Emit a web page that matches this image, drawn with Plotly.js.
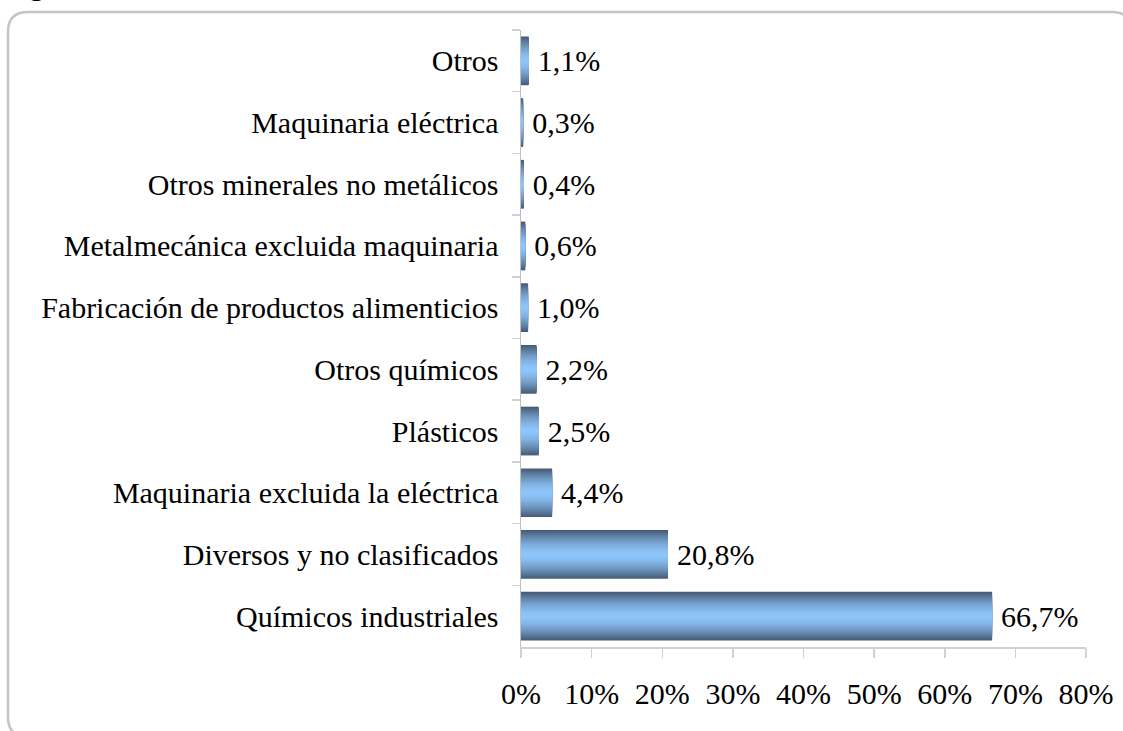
<!DOCTYPE html>
<html>
<head>
<meta charset="utf-8">
<script src="https://cdn.plot.ly/plotly-3.0.1.min.js"></script>
<style>
  html, body { margin: 0; padding: 0; background: #ffffff; }
  #chart { width: 1123px; height: 731px; }
</style>
</head>
<body>
<div id="chart"></div>
<script>
// Data (top to bottom as in the picture)
var categories = [
  "Otros",
  "Maquinaria eléctrica",
  "Otros minerales no metálicos",
  "Metalmecánica excluida maquinaria",
  "Fabricación de productos alimenticios",
  "Otros químicos",
  "Plásticos",
  "Maquinaria excluida la eléctrica",
  "Diversos y no clasificados",
  "Químicos industriales"
];
var shares = [1.1, 0.3, 0.4, 0.6, 1.0, 2.2, 2.5, 4.4, 20.8, 66.7];
var xTickValues = [0, 10, 20, 30, 40, 50, 60, 70, 80];
var xTickLabels = ["0%", "10%", "20%", "30%", "40%", "50%", "60%", "70%", "80%"];

// Layout geometry (pixels)
var W = 1123, H = 731;
var L = 521, R = 37, T = 30, B = 84;
var plotW = W - L - R, plotH = H - T - B;
function px2x(px) { return (px - L) / plotW; }
function py2y(py) { return (H - B - py) / plotH; }

var FONT = "Liberation Serif";

// Gradient bars: overlaid layers of decreasing thickness
var dark = [70, 92, 118], light = [143, 198, 252];
var N = 22, fullWidth = 0.79;
var traces = [];
for (var i = 0; i < N; i++) {
  var d = 1 - i / N;                  // 1 at edge, ->0 at centre
  var f = Math.pow(d, 1.6);
  var c = [0, 1, 2].map(function (k) { return Math.round(light[k] + (dark[k] - light[k]) * f); });
  var tr = {
    type: "bar",
    orientation: "h",
    x: shares,
    y: categories,
    width: fullWidth * d,
    marker: { color: "rgb(" + c.join(",") + ")", line: { width: 0 } },
    hoverinfo: "skip",
    showlegend: false
  };
  if (i === 0) {
    tr.texttemplate = "\u2009%{x:.1f}%";
    tr.textposition = "outside";
    tr.constraintext = "none";
    tr.cliponaxis = false;
    tr.textfont = { family: FONT, size: 30, color: "#000000" };
  }
  traces.push(tr);
}

// Rounded frame
var fx0 = 8, fy0 = 12, fx1 = 1132, fy1 = 737, rr = 20;
var framePath =
  "M " + px2x(fx0) + "," + py2y(fy0 + rr) +
  " Q " + px2x(fx0) + "," + py2y(fy0) + " " + px2x(fx0 + rr) + "," + py2y(fy0) +
  " L " + px2x(fx1 - rr) + "," + py2y(fy0) +
  " Q " + px2x(fx1) + "," + py2y(fy0) + " " + px2x(fx1) + "," + py2y(fy0 + rr) +
  " L " + px2x(fx1) + "," + py2y(fy1 - rr) +
  " Q " + px2x(fx1) + "," + py2y(fy1) + " " + px2x(fx1 - rr) + "," + py2y(fy1) +
  " L " + px2x(fx0 + rr) + "," + py2y(fy1) +
  " Q " + px2x(fx0) + "," + py2y(fy1) + " " + px2x(fx0) + "," + py2y(fy1 - rr) +
  " Z";

var layout = {
  width: W, height: H,
  margin: { l: L, r: R, t: T, b: B, pad: 0 },
  paper_bgcolor: "#ffffff",
  plot_bgcolor: "rgba(0,0,0,0)",
  barmode: "overlay",
  separators: ",.",
  showlegend: false,
  font: { family: FONT, size: 30, color: "#000000" },
  xaxis: {
    range: [0, 80],
    tickvals: xTickValues,
    ticktext: xTickLabels,
    showgrid: false,
    zeroline: false,
    showline: true,
    linecolor: "#d0d0d0",
    linewidth: 1.5,
    ticks: "outside",
    ticklen: 9,
    tickcolor: "#d0d0d0",
    tickwidth: 1.5,
    ticklabelstandoff: 10,
    tickfont: { family: FONT, size: 30, color: "#000000" },
    fixedrange: true
  },
  yaxis: {
    type: "category",
    categoryorder: "array",
    categoryarray: categories,
    autorange: "reversed",
    showgrid: false,
    zeroline: false,
    showline: true,
    linecolor: "#c0c0c0",
    linewidth: 1.5,
    ticks: "outside",
    tickson: "boundaries",
    ticklen: 8,
    tickcolor: "#d0d0d0",
    tickwidth: 1.5,
    ticklabelstandoff: 15,
    tickfont: { family: FONT, size: 30, color: "#000000" },
    fixedrange: true
  },
  shapes: [{
    type: "path",
    xref: "paper", yref: "paper",
    path: framePath,
    line: { color: "#c4c4c4", width: 2.5 },
    fillcolor: "rgba(0,0,0,0)",
    layer: "below"
  }],
  annotations: [{
    xref: "paper", yref: "paper",
    x: px2x(36), y: py2y(3),
    xanchor: "center", yanchor: "bottom",
    text: "g", showarrow: false,
    font: { family: FONT, size: 30, color: "#000000" }
  }]
};

Plotly.newPlot("chart", traces, layout, { displayModeBar: false, staticPlot: true });
</script>
</body>
</html>
